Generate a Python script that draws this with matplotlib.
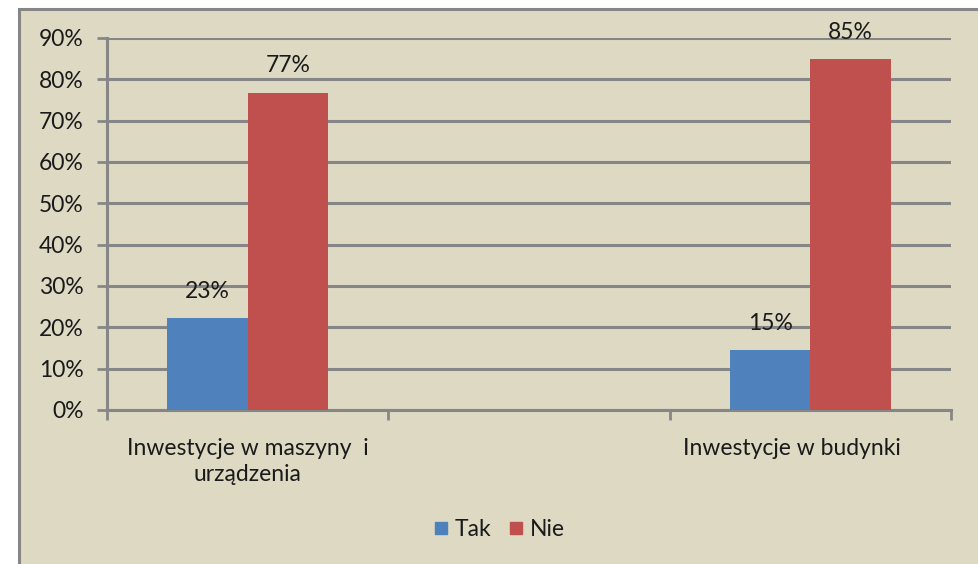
import matplotlib
matplotlib.use("Agg")
import matplotlib.pyplot as plt
import matplotlib.transforms as mtransforms
from matplotlib.patches import Rectangle
from matplotlib.lines import Line2D

categories = ["Inwestycje w maszyny  i\nurządzenia", "", "Inwestycje w budynki"]
tak = [0.222, None, 0.144]
nie = [0.768, None, 0.849]
tak_labels = ["23%", "", "15%"]
nie_labels = ["77%", "", "85%"]
series_names = ["Tak", "Nie"]
yticks = [0, 0.1, 0.2, 0.3, 0.4, 0.5, 0.6, 0.7, 0.8, 0.9]

BG = "#DDD9C3"
GRID = "#868686"
BLUE = "#4F81BD"
RED = "#C0504D"
TXT = "#1a1a1a"
FS = 16.5

plt.rcParams['font.family'] = ['Lato', 'DejaVu Sans']

W, H = 979, 564
fig = plt.figure(figsize=(W / 100, H / 100), dpi=100)
fig.patch.set_facecolor("white")
bg = Rectangle((19 / W, -0.05), 1.0, 1.05 - 9 / H, transform=fig.transFigure,
               facecolor=BG, edgecolor=GRID, linewidth=2.2, zorder=-10)
fig.patches.append(bg)

ax = fig.add_axes([107 / W, 1 - 410 / H, (951 - 107) / W, (410 - 38) / H])
ax.set_zorder(1)
ax.patch.set_alpha(0)

bw = 0.285
xs = range(len(categories))
for i in xs:
    if tak[i] is not None:
        ax.bar(i - bw / 2, tak[i], width=bw, color=BLUE, zorder=3)
        ax.text(i - bw / 2, tak[i] + 0.04, tak_labels[i], ha="center", va="bottom",
                fontsize=FS, color=TXT, zorder=4)
    if nie[i] is not None:
        ax.bar(i + bw / 2, nie[i], width=bw, color=RED, zorder=3)
        ax.text(i + bw / 2, nie[i] + 0.04, nie_labels[i], ha="center", va="bottom",
                fontsize=FS, color=TXT, zorder=4)

ax.set_xlim(-0.5, 2.5)
ax.set_ylim(0, 0.9)
ax.set_yticks(yticks)
ax.set_yticklabels([f"{int(round(v * 100))}%" for v in yticks], fontsize=FS, color=TXT)
ax.yaxis.grid(True, color=GRID, linewidth=2.2, zorder=1)
ax.set_axisbelow(True)
ax.tick_params(axis="y", length=7, width=2, color=GRID, pad=10)

ax.set_xticks([-0.5, 0.5, 1.5, 2.5])
ax.set_xticklabels([])
ax.tick_params(axis="x", length=7, width=2, color=GRID)
ax.set_xticks(list(xs), minor=True)
labels = ax.set_xticklabels(categories, minor=True, fontsize=FS, color=TXT, linespacing=1.3)
ax.tick_params(axis="x", which="minor", length=0, pad=20)
# Excel places the last label slightly left of the category centre
shift = mtransforms.ScaledTranslation(-18 / 100, 0, fig.dpi_scale_trans)
for tk in ax.xaxis.get_minor_ticks()[2:]:
    tk.label1.set_transform(tk.label1.get_transform() + shift)

for s in ["top", "right"]:
    ax.spines[s].set_visible(False)
for s in ["left", "bottom"]:
    ax.spines[s].set_color(GRID)
    ax.spines[s].set_linewidth(2.2)

handles = [Line2D([], [], marker="s", linestyle="none", markersize=9, color=c)
           for c in (BLUE, RED)]
fig.legend(handles, series_names, loc="center", bbox_to_anchor=(496 / W, 1 - 530 / H),
           ncol=2, frameon=False, fontsize=FS, handletextpad=0.0, columnspacing=0.45,
           handlelength=1.2, labelcolor=TXT)

fig.savefig("out.png", dpi=100, facecolor=fig.get_facecolor())
